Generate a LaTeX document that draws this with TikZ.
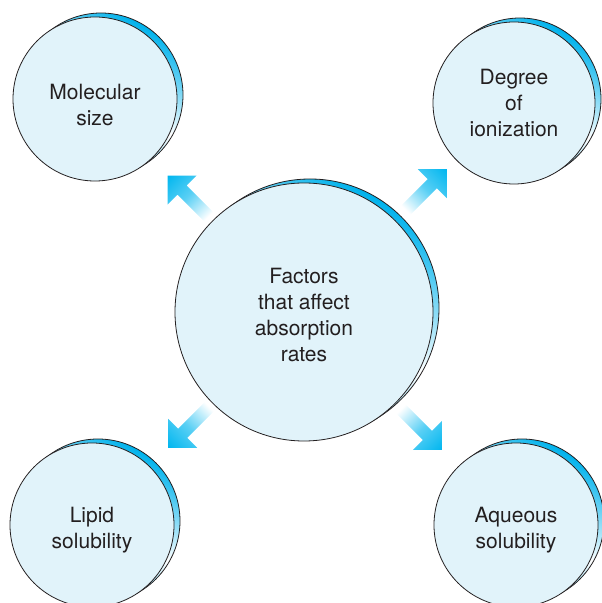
\documentclass[tikz,border=0pt]{standalone}
\usepackage{fontspec}
\setsansfont{TeX Gyre Heros}
\usetikzlibrary{calc}
\definecolor{discfill}{RGB}{225,243,250}
\definecolor{rimblue}{RGB}{0,178,236}
\definecolor{arrowblue}{RGB}{0,182,239}
\definecolor{inkgray}{RGB}{35,31,32}
\tikzset{
  disc/.style={circle, draw=inkgray, line width=0.8pt, fill=discfill, minimum size=#1,
    inner sep=0pt, align=center, text=inkgray, font=\sffamily\fontsize{21}{26}\selectfont},
  rim/.style={draw=inkgray, line width=0.8pt, left color=rimblue, right color=rimblue,
    middle color=white, shading angle=-30},
  flow/.style={left color=white, right color=arrowblue, middle color=arrowblue!65}
}
\begin{document}
\begin{tikzpicture}[x=1pt,y=1pt]
  \useasboundingbox (0,0) rectangle (602,603);
  \clip (0,0) rectangle (602,603);
  % discs, each with a shaded rim behind it
  \foreach \name/\pos/\r/\th/\txt in {
      hub/{(304,291)}/129/99/{Factors\\that affect\\absorption\\rates},
      molsize/{(95,504)}/82/53/{Molecular\\size},
      ionize/{(514,500)}/81/67/{Degree\\of\\ionization},
      lipid/{(92,78)}/82/51/{Lipid\\solubility},
      aqueous/{(516,78)}/82/51/{Aqueous\\solubility}}
  {
    \shade[rim] \pos ++(6,4) circle (\r);
    \node[disc=2*\r, text height=\th pt] (\name) at \pos {\txt};
  }
  % block arrows leaving the hub
  \foreach \ang/\dist in {135/135,45/144,225/134,-45/137}
    \shade[flow, transform canvas={shift={(hub.center)}, rotate=\ang}]
      (\dist,6.5) -- (\dist+37.5,6.5) -- (\dist+37.5,20.5) -- (\dist+58,0)
      -- (\dist+37.5,-20.5) -- (\dist+37.5,-6.5) -- (\dist,-6.5) -- cycle;
\end{tikzpicture}
\end{document}
